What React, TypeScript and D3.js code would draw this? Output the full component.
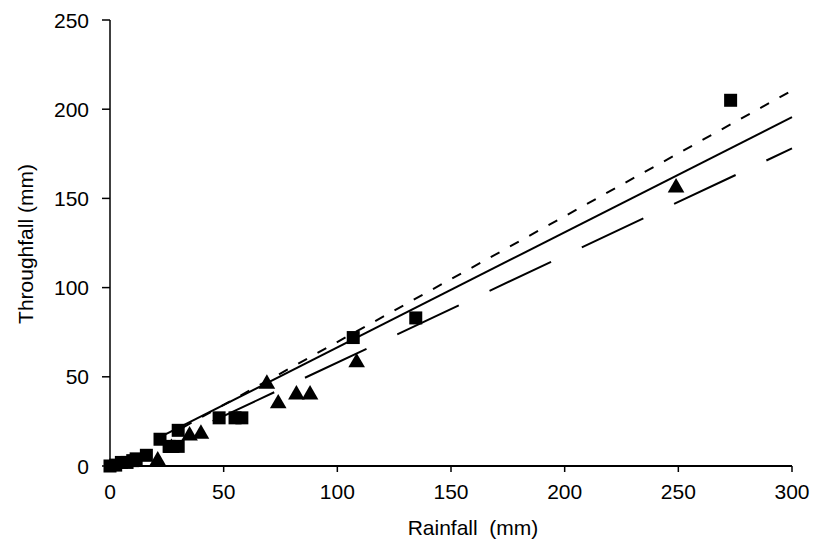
import React from "react";
import * as d3 from "d3";

const squareX = [0, 2.5, 5, 7.5, 10, 11.5, 16, 22, 26, 30, 30, 48, 55, 58, 107, 134.5, 273];
const squareY = [0, 0.5, 2, 2, 3, 4, 6, 15, 11, 20, 11, 27, 27, 27, 72, 83, 205];

const triangleX = [21, 27, 35, 40, 69, 74, 82, 88, 108.5, 249];
const triangleY = [3, 10, 17, 18, 46, 35, 40, 40, 58, 156];

// regression lines: [slope, intercept, xStart, xEnd]
const lineDashed = [0.705, -1, 32, 302];
const lineSolid = [0.645, 2, 20, 300];
const lineLongDash = [0.6, -2, 40, 300];

const xTicks = [0, 50, 100, 150, 200, 250, 300];
const yTicks = [0, 50, 100, 150, 200, 250];

const W = 814;
const H = 543;

export default function App() {
  const x = d3.scaleLinear().domain([0, 300]).range([110, 792]);
  const y = d3.scaleLinear().domain([0, 250]).range([466, 20]);
  const font = "'Liberation Sans', Arial, Helvetica, sans-serif";
  const fs = 21;

  const linePath = (l: number[]) => {
    const [m, b, x0, x1] = l;
    const gen = d3.line<number>().x((d) => x(d)).y((d) => y(m * d + b));
    return gen([x0, x1]) as string;
  };

  const sq = 13;
  const triSym = d3.symbol().type(d3.symbolTriangle).size(120)();

  return (
    <svg width={W} height={H} style={{ position: "absolute", left: 0, top: 0, background: "#fff" }}>
      {/* axes */}
      <line x1={x(0)} x2={x(0)} y1={y(250)} y2={y(0)} stroke="#000" strokeWidth={1.5} />
      <line x1={x(0)} x2={x(300)} y1={y(0)} y2={y(0)} stroke="#000" strokeWidth={2} />
      {yTicks.map((t) => (
        <g key={"y" + t}>
          <line x1={x(0) - 8} x2={x(0)} y1={y(t)} y2={y(t)} stroke="#000" strokeWidth={1.5} />
          <text x={x(0) - 21} y={y(t)} dy="0.36em" textAnchor="end" fontFamily={font} fontSize={fs}>
            {t}
          </text>
        </g>
      ))}
      {xTicks.map((t) => (
        <g key={"x" + t}>
          <line x1={x(t)} x2={x(t)} y1={y(0)} y2={y(0) + 6} stroke="#000" strokeWidth={1.5} />
          <text x={x(t)} y={y(0) + 33} textAnchor="middle" fontFamily={font} fontSize={fs}>
            {t}
          </text>
        </g>
      ))}
      <text x={473} y={535} textAnchor="middle" fontFamily={font} fontSize={fs} style={{ whiteSpace: "pre" }}>
        {"Rainfall  (mm)"}
      </text>
      <text
        transform={`translate(33,${244}) rotate(-90)`}
        textAnchor="middle"
        fontFamily={font}
        fontSize={fs}
      >
        Throughfall (mm)
      </text>

      {/* regression lines */}
      <path d={linePath(lineDashed)} stroke="#000" strokeWidth={2} fill="none" strokeDasharray="10,12" />
      <path d={linePath(lineSolid)} stroke="#000" strokeWidth={2} fill="none" />
      <path
        d={linePath(lineLongDash)}
        stroke="#000"
        strokeWidth={2}
        fill="none"
        strokeDasharray="68,34"
        strokeDashoffset={-13}
      />

      {/* markers */}
      {squareX.map((d, i) => (
        <rect key={"s" + i} x={x(d) - sq / 2} y={y(squareY[i]) - sq / 2} width={sq} height={sq} fill="#000" />
      ))}
      {triangleX.map((d, i) => (
        <path key={"t" + i} d={triSym as string} transform={`translate(${x(d)},${y(triangleY[i])})`} fill="#000" />
      ))}
    </svg>
  );
}
